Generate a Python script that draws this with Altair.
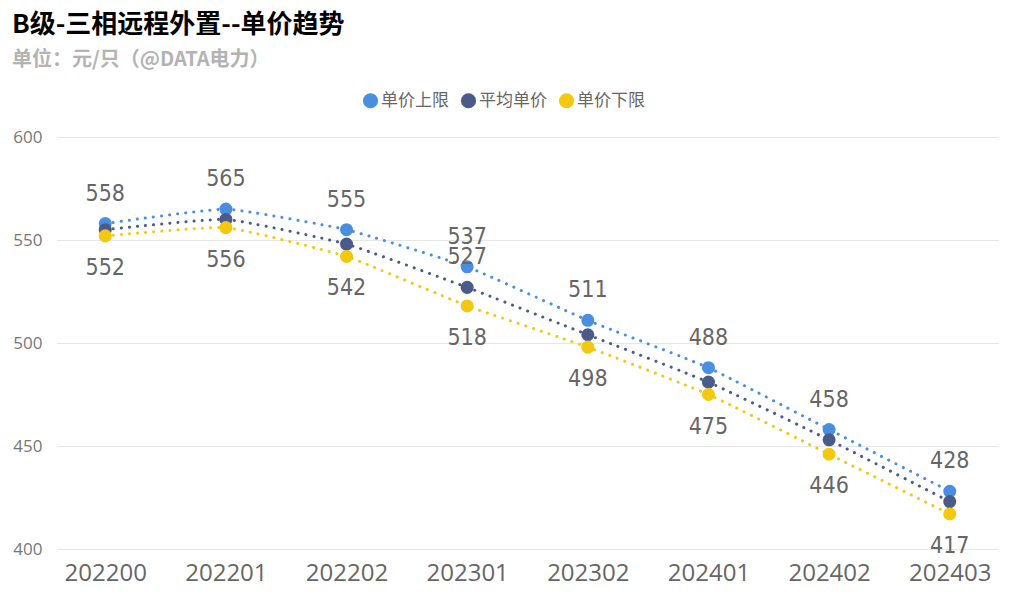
import altair as alt
import pandas as pd

periods = ["202200", "202201", "202202", "202301", "202302", "202401", "202402", "202403"]
upper = [558, 565, 555, 537, 511, 488, 458, 428]
average = [555, 560, 548, 527, 504, 481, 453, 423]
lower = [552, 556, 542, 518, 498, 475, 446, 417]
series_names = ["单价上限", "平均单价", "单价下限"]
series_colors = ["#4A8FDF", "#4A5A8A", "#F2C811"]
avg_label_periods = ["202301"]

rows = []
for name, values in zip(series_names, [upper, average, lower]):
    for p, v in zip(periods, values):
        rows.append({"period": p, "series": name, "value": v,
                     "show_avg": p in avg_label_periods})
df = pd.DataFrame(rows)

x_enc = alt.X(
    "period:N",
    sort=periods,
    title=None,
    scale=alt.Scale(type="point", padding=0.4),
    axis=alt.Axis(
        labelAngle=0,
        labelFont="Open Sans",
        labelFontSize=24,
        labelColor="#666666",
        labelPadding=12,
        domain=False,
        ticks=False,
        grid=False,
    ),
)
y_enc = alt.Y(
    "value:Q",
    title=None,
    scale=alt.Scale(domain=[400, 600], nice=False, zero=False),
    axis=alt.Axis(
        values=[400, 450, 500, 550, 600],
        labelFont="Open Sans",
        labelFontSize=17,
        labelColor="#777777",
        labelPadding=15,
        domain=False,
        ticks=False,
        grid=True,
        gridColor="#E6E6E6",
        gridWidth=1.2,
        minExtent=49,
        maxExtent=49,
    ),
)
color_enc = alt.Color(
    "series:N",
    sort=series_names,
    scale=alt.Scale(domain=series_names, range=series_colors),
    legend=alt.Legend(
        title=None,
        orient="none",
        direction="horizontal",
        legendX=305,
        legendY=-45,
        symbolType="circle",
        symbolSize=230,
        symbolStrokeWidth=0,
        symbolOpacity=1,
        labelFont="Noto Sans CJK SC",
        labelFontSize=17,
        labelColor="#666666",
        labelOffset=2,
        columnPadding=11,
    ),
)

base = alt.Chart(df).encode(x=x_enc, y=y_enc)

lines = base.mark_line(
    interpolate="cardinal", tension=0.6,
    strokeDash=[0.1, 8], strokeCap="round", strokeWidth=3
).encode(color=color_enc, detail="series:N")

points = base.mark_circle(size=170, opacity=1).encode(
    color=alt.Color("series:N", scale=alt.Scale(domain=series_names, range=series_colors), legend=None),
)

label_style = dict(font="DejaVu Sans Condensed", fontSize=23, color="#666666", baseline="middle")

upper_labels = base.mark_text(dy=-30, **label_style).encode(
    text="value:Q"
).transform_filter(alt.datum.series == "单价上限")

lower_labels = base.mark_text(dy=32, **label_style).encode(
    text="value:Q"
).transform_filter(alt.datum.series == "单价下限")

avg_labels = base.mark_text(dy=-30, **label_style).encode(
    text="value:Q"
).transform_filter("datum.series == '平均单价' && datum.show_avg")

chart = (
    alt.layer(lines, points, upper_labels, lower_labels, avg_labels)
    .properties(
        width=941,
        height=412,
        background="#FFFFFF",
        padding={"left": 0, "top": 4, "right": 10, "bottom": 10},
        title=alt.TitleParams(
            text="B级-三相远程外置--单价趋势",
            subtitle="单位：元/只（@DATA电力）",
            anchor="start",
            font="Noto Sans CJK SC",
            fontSize=26,
            fontWeight="bold",
            color="#000000",
            subtitleFont="Noto Sans CJK SC",
            subtitleFontSize=20,
            subtitleFontWeight="bold",
            subtitleColor="#B3B3B3",
            subtitlePadding=12,
            offset=22,
            dx=4,
        ),
    )
    .configure_view(stroke=None, strokeWidth=0)
)

chart.save("out.html", embed_options={"renderer": "svg", "actions": False})
